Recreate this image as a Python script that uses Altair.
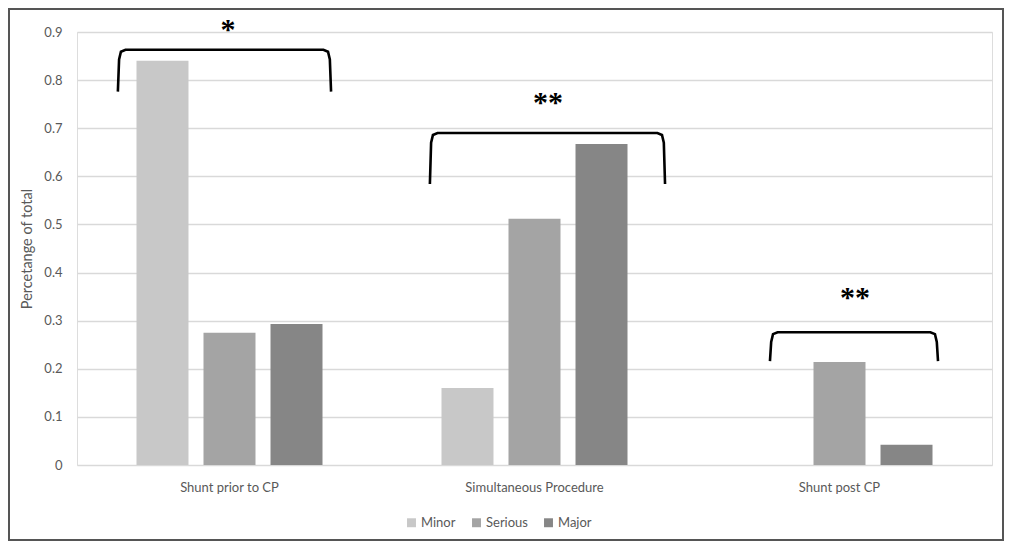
import altair as alt
import pandas as pd

categories = ["Shunt prior to CP", "Simultaneous Procedure", "Shunt post CP"]
series = ["Minor", "Serious", "Major"]
minor_vals = [0.84, 0.16, 0.0]
serious_vals = [0.275, 0.512, 0.214]
major_vals = [0.293, 0.667, 0.042]
colors = ["#c8c8c8", "#a4a4a4", "#868686"]

# significance brackets (x in group units 0..3)
bracket_left = [0.134, 1.157, 2.272]
bracket_right = [0.833, 1.928, 2.823]
bracket_top = [0.863, 0.690, 0.276]
bracket_bottom = [0.776, 0.584, 0.216]
star_x = [0.495, 1.544, 2.551]
star_y = [0.905, 0.752, 0.347]
star_text = ["*", "**", "**"]

rows = []
for i, c in enumerate(categories):
    for s, vals in zip(series, [minor_vals, serious_vals, major_vals]):
        rows.append({"category": c, "series": s, "value": vals[i]})
bars_df = pd.DataFrame(rows)

path_rows = []
for i in range(3):
    l, r, t, b = bracket_left[i], bracket_right[i], bracket_top[i], bracket_bottom[i]
    pts = [(l, b), (l + 0.004, t - 0.02), (l + 0.01, t - 0.004), (l + 0.025, t),
           (r - 0.025, t), (r - 0.01, t - 0.004), (r - 0.004, t - 0.02), (r, b)]
    for k, (px, py) in enumerate(pts):
        path_rows.append({"b": i, "order": k, "bx": px, "by": py})
path_df = pd.DataFrame(path_rows)
stars_df = pd.DataFrame({"sx": star_x, "sy": star_y, "txt": star_text})

W, H = 915, 433
yscale = alt.Scale(domain=[0, 0.9], nice=False)

bars = alt.Chart(bars_df).mark_bar().encode(
    x=alt.X("category:N", sort=categories, title=None,
            scale=alt.Scale(paddingInner=0, paddingOuter=0),
            axis=alt.Axis(labelAngle=0, domain=False, ticks=False, labelPadding=16,
                          labelFontSize=13, labelColor="#595959", labelFont="Lato")),
    xOffset=alt.XOffset("series:N", sort=series,
                        scale=alt.Scale(paddingInner=0.224, paddingOuter=0.888)),
    y=alt.Y("value:Q", scale=yscale, title="Percetange of total",
            axis=alt.Axis(values=[0, 0.1, 0.2, 0.3, 0.4, 0.5, 0.6, 0.7, 0.8, 0.9],
                          format=".1~f", domain=False, ticks=False, labelPadding=15,
                          gridColor="#d9d9d9", gridWidth=1.5,
                          labelFontSize=13, labelColor="#595959", labelFont="Lato",
                          titleFontSize=14.5, titleColor="#595959", titleFont="Lato",
                          titleFontWeight="normal", titlePadding=9)),
    color=alt.Color("series:N", sort=series,
                    scale=alt.Scale(domain=series, range=colors),
                    legend=alt.Legend(title=None, orient="none", direction="horizontal",
                                      legendX=328, legendY=484,
                                      symbolType="square", symbolSize=80,
                                      symbolStrokeWidth=0,
                                      labelFontSize=13, labelColor="#595959",
                                      labelFont="Lato", columnPadding=14,
                                      labelOffset=3)),
)

qx = alt.Scale(domain=[0, 3], nice=False, zero=False)

brackets = alt.Chart(path_df).mark_line(color="black", strokeWidth=2.6).encode(
    x=alt.X("bx:Q", scale=qx, axis=None),
    y=alt.Y("by:Q", scale=yscale),
    detail="b:N",
    order="order:Q",
)

stars = alt.Chart(stars_df).mark_text(font="Liberation Serif", fontSize=30,
                                      fontWeight="bold",
                                      color="black", baseline="middle").encode(
    x=alt.X("sx:Q", scale=qx, axis=None),
    y=alt.Y("sy:Q", scale=yscale),
    text="txt:N",
)

border = alt.Chart(pd.DataFrame({"k": [0]})).mark_rect(
    fill=None, stroke="#555555", strokeWidth=2).encode(
    x=alt.value(-68), x2=alt.value(W + 11), y=alt.value(-23), y2=alt.value(H + 75))

chart = alt.layer(bars, brackets, stars, border).resolve_scale(x="independent").properties(
    width=W, height=H,
    autosize=alt.AutoSizeParams(type="none"),
    padding={"left": 69, "top": 24, "right": 12, "bottom": 76},
).configure_view(stroke=None).configure(background="white")

chart.save("out.html", embed_options={"renderer": "svg", "actions": False})
